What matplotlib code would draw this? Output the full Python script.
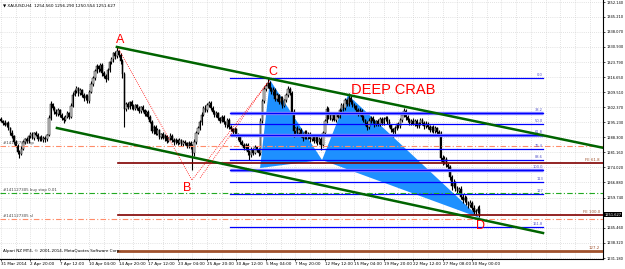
import matplotlib
matplotlib.use("Agg")
import matplotlib.pyplot as plt
from matplotlib.patches import Polygon

# XAUUSD H4, 31 Mar 2014 .. 30 May 2014 (one line = 16 bars)
first_open = 1296.8
closes = [
    1296.0, 1295.2, 1294.1, 1294.8, 1292.5, 1290.3, 1288.6, 1286.0, 1284.1, 1281.5, 1280.4, 1282.8, 1285.9, 1287.4, 1286.3, 1288.9,
    1289.8, 1288.1, 1290.2, 1289.5, 1287.6, 1288.4, 1286.9, 1288.0, 1287.2, 1289.1, 1297.5, 1303.8, 1302.1, 1300.4, 1299.0, 1301.2,
    1298.9, 1297.1, 1296.3, 1298.0, 1299.6, 1297.9, 1303.2, 1308.4, 1310.1, 1311.3, 1309.0, 1310.4, 1308.1, 1306.7, 1307.9, 1305.2,
    1309.8, 1313.5, 1316.2, 1319.4, 1321.7, 1320.3, 1322.5, 1318.6, 1317.1, 1315.8, 1319.9, 1323.6, 1325.0, 1327.9, 1326.4, 1328.8,
    1327.2, 1324.1, 1318.0, 1301.6, 1303.9, 1302.5, 1304.8, 1303.0, 1301.7, 1303.3, 1302.0, 1300.6, 1302.4, 1301.1, 1299.3, 1300.2,
    1297.8, 1295.6, 1291.4, 1293.2, 1290.0, 1291.5, 1288.4, 1289.6, 1287.8, 1288.9, 1286.5, 1287.7, 1289.0, 1287.1, 1285.8, 1286.9,
    1285.7, 1286.8, 1284.9, 1286.1, 1285.3, 1284.2, 1285.6, 1283.9, 1281.0, 1286.2, 1290.4, 1292.8, 1295.3, 1298.9, 1302.1, 1301.0,
    1303.4, 1304.6, 1302.0, 1300.3, 1298.7, 1299.5, 1297.2, 1296.1, 1297.8, 1295.4, 1294.0, 1296.3, 1293.1, 1292.2, 1290.6, 1291.9,
    1289.5, 1288.2, 1286.0, 1284.8, 1283.1, 1284.6, 1281.3, 1279.7, 1282.4, 1281.0, 1283.5, 1282.0, 1280.6, 1295.8, 1305.2, 1310.9,
    1312.6, 1313.8, 1311.2, 1309.4, 1310.8, 1306.5, 1308.1, 1304.9, 1306.6, 1303.2, 1305.7, 1308.3, 1311.0, 1309.2, 1300.4, 1291.0,
    1292.4, 1290.1, 1291.8, 1289.4, 1287.9, 1290.6, 1288.2, 1289.7, 1287.3, 1288.8, 1286.4, 1289.0, 1285.8, 1287.5, 1284.7, 1290.2,
    1296.0, 1301.5, 1298.2, 1297.0, 1298.8, 1296.6, 1299.4, 1298.0, 1301.2, 1303.5, 1302.0, 1305.7, 1304.1, 1306.9, 1305.0, 1303.6,
    1302.8, 1301.0, 1299.4, 1300.8, 1297.6, 1296.2, 1294.8, 1293.0, 1295.9, 1297.4, 1296.0, 1294.3, 1295.8, 1294.6, 1296.9, 1295.1,
    1296.7, 1297.5, 1295.6, 1293.8, 1292.0, 1290.9, 1292.6, 1294.3, 1293.5, 1296.2, 1298.9, 1300.6, 1297.8, 1296.4, 1295.0, 1296.1,
    1294.7, 1295.9, 1293.6, 1294.8, 1296.3, 1295.0, 1293.4, 1294.6, 1293.0, 1291.8, 1292.9, 1291.2, 1292.5, 1290.8, 1289.9, 1278.6,
    1276.4, 1277.9, 1275.2, 1274.0, 1269.6, 1265.3, 1266.8, 1264.1, 1262.7, 1263.9, 1260.2, 1258.5, 1259.7, 1257.1, 1256.0, 1257.3,
    1254.9, 1252.8, 1253.4, 1254.56, 1251.627,
]
up_wick = [
    0.8, 0.6, 1.1, 0.5, 0.9, 0.7, 1.2, 0.6, 0.8, 1.0, 0.5, 1.3, 0.9, 0.7, 1.1, 0.6,
    0.7, 0.9, 0.6, 1.0, 0.8, 0.5, 1.1, 0.7, 0.9, 0.6, 1.2, 1.6, 0.8, 0.7, 1.0, 0.9,
    0.6, 0.8, 1.0, 0.7, 0.9, 0.6, 1.1, 1.3, 0.8, 1.2, 0.7, 0.9, 0.6, 1.0, 0.8, 0.7,
    0.9, 1.1, 0.8, 1.0, 1.3, 0.7, 0.9, 0.6, 1.0, 0.8, 1.2, 0.9, 1.1, 0.7, 1.0, 2.2,
    0.9, 0.7, 1.2, 1.0, 0.8, 1.1, 0.6, 0.9, 1.0, 0.7, 0.8, 1.2, 0.6, 0.9, 0.7, 1.0,
    0.8, 1.0, 0.7, 0.9, 0.6, 1.1, 0.8, 0.7, 1.0, 0.9, 0.6, 0.8, 1.1, 0.7, 0.9, 0.8,
    0.7, 0.9, 0.6, 0.8, 1.0, 0.7, 0.9, 0.8, 1.1, 1.3, 1.0, 0.9, 1.2, 1.4, 1.0, 1.6,
    1.1, 0.9, 1.0, 0.8, 0.7, 1.2, 0.9, 0.6, 1.0, 0.8, 0.7, 1.1, 0.9, 0.8, 0.6, 1.0,
    0.9, 0.7, 0.8, 1.0, 0.6, 0.9, 0.8, 0.7, 1.1, 0.8, 0.9, 0.7, 1.0, 1.3, 1.2, 1.5,
    1.2, 2.4, 1.0, 0.9, 1.1, 0.8, 1.0, 0.7, 0.9, 1.2, 0.8, 1.0, 1.5, 0.9, 0.8, 1.0,
    0.9, 1.1, 0.8, 1.0, 0.7, 0.9, 1.0, 0.8, 0.9, 0.7, 1.1, 0.8, 0.9, 1.0, 0.8, 1.2,
    1.0, 1.4, 0.9, 1.1, 0.8, 1.0, 0.9, 0.7, 1.0, 1.1, 0.9, 1.0, 0.8, 2.2, 1.1, 0.9,
    1.0, 0.8, 0.9, 1.1, 0.8, 1.0, 0.7, 0.9, 1.2, 0.8, 1.0, 0.9, 0.8, 1.1, 0.9, 0.7,
    0.9, 1.0, 0.8, 1.1, 0.9, 0.8, 1.0, 0.9, 1.1, 1.0, 1.2, 1.4, 0.9, 1.0, 0.8, 0.9,
    1.0, 0.9, 1.1, 0.8, 1.0, 0.9, 0.8, 1.1, 0.9, 1.0, 0.8, 0.9, 1.0, 0.8, 0.9, 1.2,
    1.2, 1.4, 1.0, 1.1, 1.3, 0.9, 1.5, 1.0, 1.2, 0.9, 1.1, 1.0, 1.3, 0.9, 1.0, 1.2,
    1.0, 1.2, 0.9, 1.1, 1.73,
]
dn_wick = [
    0.7, 1.0, 0.6, 1.2, 0.8, 0.9, 0.5, 1.1, 0.7, 1.4, 2.2, 0.6, 0.8, 1.0, 0.7, 0.9,
    0.8, 0.6, 1.0, 0.7, 1.1, 0.9, 0.6, 0.8, 1.3, 0.7, 0.5, 0.9, 1.0, 1.2, 0.8, 0.6,
    1.0, 0.9, 1.4, 0.6, 0.8, 1.1, 0.7, 0.9, 0.6, 1.0, 1.2, 0.8, 0.9, 1.1, 0.7, 1.0,
    0.8, 0.7, 1.0, 0.9, 0.6, 1.1, 0.8, 1.2, 0.9, 1.4, 0.7, 0.8, 0.6, 1.0, 1.3, 0.9,
    1.1, 1.4, 1.8, 8.5, 1.0, 0.7, 0.9, 1.2, 0.8, 0.6, 1.0, 0.9, 0.7, 1.1, 0.8, 0.9,
    1.0, 0.8, 1.2, 1.6, 0.9, 0.7, 1.0, 0.8, 0.6, 1.1, 0.9, 0.7, 0.8, 1.0, 1.2, 0.6,
    0.9, 0.7, 1.0, 0.8, 0.6, 1.1, 0.9, 1.2, 8.2, 1.5, 1.0, 0.8, 0.9, 1.1, 0.7, 1.0,
    0.8, 1.0, 0.7, 0.9, 1.1, 0.8, 1.0, 0.9, 0.7, 1.0, 0.8, 1.2, 0.9, 1.1, 1.0, 0.7,
    1.0, 1.2, 0.8, 0.9, 1.1, 0.8, 1.4, 2.2, 0.9, 1.0, 0.7, 0.8, 1.1, 0.6, 0.9, 1.0,
    0.9, 1.0, 1.1, 0.8, 1.0, 1.2, 0.9, 1.1, 0.8, 1.0, 0.9, 0.7, 1.0, 1.1, 1.3, 2.6,
    1.0, 0.8, 1.1, 0.9, 1.2, 0.7, 1.0, 0.8, 1.1, 0.9, 1.0, 0.8, 1.2, 0.9, 2.5, 1.0,
    0.9, 1.0, 1.2, 0.8, 1.0, 0.9, 1.1, 0.8, 0.9, 1.0, 1.2, 0.8, 1.0, 0.9, 1.1, 1.0,
    0.9, 1.1, 1.0, 0.8, 1.2, 0.9, 1.0, 1.4, 0.8, 1.0, 0.9, 1.1, 0.8, 1.0, 0.9, 1.0,
    1.0, 0.8, 1.1, 0.9, 1.2, 2.5, 1.0, 0.8, 0.9, 1.1, 0.8, 1.0, 1.2, 0.9, 1.0, 0.8,
    0.9, 1.0, 0.8, 1.1, 0.9, 1.0, 1.2, 0.8, 1.0, 0.9, 1.1, 0.8, 1.0, 1.2, 0.9, 1.8,
    1.5, 1.0, 1.2, 1.6, 1.4, 1.8, 1.0, 1.3, 1.1, 0.9, 1.2, 1.5, 1.0, 1.1, 1.3, 0.9,
    1.1, 0.9, 1.2, 1.0, 1.073,
]

date_labels = ["31 Mar 2014", "2 Apr 20:00", "7 Apr 12:00", "10 Apr 04:00", "14 Apr 20:00",
               "17 Apr 12:00", "23 Apr 04:00", "25 Apr 20:00", "30 Apr 12:00", "5 May 04:00",
               "7 May 20:00", "12 May 12:00", "15 May 04:00", "19 May 20:00", "22 May 12:00",
               "27 May 08:00", "30 May 00:00"]
price_ticks = [1352.140, 1345.210, 1338.070, 1330.930, 1323.790, 1316.650, 1309.510, 1302.370,
               1295.230, 1288.300, 1281.160, 1274.020, 1266.880, 1259.740, 1245.460, 1238.320,
               1231.180]
last_price = 1251.627
header = "XAUUSD,H4  1254.560 1256.290 1250.554 1251.627"

# channel (bar, price)
upper_chan = [(63.0, 1330.9), (327.0, 1283.3)]
lower_chan = [(30.4, 1292.6), (294.6, 1243.0)]
# ABCD swing points
abcd_pts = {"A": (63.6, 1330.4), "B": (103.8, 1268.0), "C": (146.2, 1315.3), "D": (260.3, 1250.1)}
# second dotted leg into C
leg2 = [(108.2, 1269.0), (144.8, 1314.0)]
# deep crab X A B C D
crab = [(140.8, 1273.7), (146.2, 1315.3), (174.5, 1277.5), (188.6, 1308.2), (260.3, 1250.1)]
# fibo retracement
fib_names = ["0.0", "38.2", "50.0", "61.8", "76.4", "88.6", "100.0", "113", "127", "161.8"]
fib_prices = [1316.2, 1299.7, 1294.5, 1289.3, 1282.7, 1277.7, 1272.8, 1267.1, 1261.4, 1245.8]
fib_bold = ["38.2", "61.8", "100.0"]
fib_span = (124.5, 294.6)
# fibo expansion
fe_names = ["FE 61.8", "FE 100.0", "127.2"]
fe_prices = [1276.1, 1251.6, 1234.5]
fe_start = 63.6
# order lines
order_names = ["#141127305 tp", "#141127305 buy stop 0.01", "#141127305 sl"]
order_prices = [1284.1, 1261.9, 1249.6]
order_colors = ["#ff8c69", "#22aa22", "#ff8c69"]

plt.rcParams["font.family"] = ["DejaVu Sans"]
fig = plt.figure(figsize=(6.25, 2.69), dpi=100)
ax = fig.add_axes([0.0, 10 / 269, 603 / 625, 259 / 269])
ax.set_xlim(-0.54, 327.2)
ax.set_ylim(1230.71, 1353.09)

n = len(closes)
opens = [first_open] + closes[:-1]
xs = list(range(n))
highs = [max(o, c) + u for o, c, u in zip(opens, closes, up_wick)]
lows = [min(o, c) - d for o, c, d in zip(opens, closes, dn_wick)]

# grid
for gx in range(0, 330, 8):
    ax.axvline(gx, color="#c8c8c8", lw=0.5, ls=(0, (1, 2)), zorder=0)
for gy in price_ticks:
    ax.axhline(gy, color="#c8c8c8", lw=0.5, ls=(0, (1, 2)), zorder=0)

# crab triangles
ax.add_patch(Polygon([crab[0], crab[1], crab[2]], closed=True, fc="#1e90ff", ec="none", zorder=1))
ax.add_patch(Polygon([crab[2], crab[3], crab[4]], closed=True, fc="#1e90ff", ec="none", zorder=1))

# candles
ax.vlines(xs, lows, highs, color="black", lw=0.8, zorder=2)
for x, o, c in zip(xs, opens, closes):
    fc = "#d8d8d8" if c >= o else "black"
    ax.bar(x, max(abs(c - o), 0.15), bottom=min(o, c), width=0.75, color=fc,
           edgecolor="black", linewidth=0.35, zorder=2)

# fibo lines
for name, p in zip(fib_names, fib_prices):
    if name in fib_bold:
        ax.plot(fib_span, [p, p], color="#8080ff", lw=2.4, zorder=3, solid_capstyle="butt")
    ax.plot(fib_span, [p, p], color="#0000ff", lw=0.9, zorder=3)
    ax.text(fib_span[1], p + 0.4, name, color="#5050c8", fontsize=2.6, ha="right", va="bottom", zorder=4)

# fibo expansion lines
for name, p, col in zip(fe_names, fe_prices, ["#800000", "#800000", "#a0522d"]):
    ax.plot([fe_start, 327.2], [p, p], color=col, lw=1.2 if col == "#800000" else 2.0, zorder=3)
    ax.text(325.5, p + 0.5, name, color="#a0522d", fontsize=2.8, ha="right", va="bottom", zorder=4)

# order lines
for name, p, col in zip(order_names, order_prices, order_colors):
    ax.axhline(p, color=col, lw=0.8, ls=(0, (5, 2, 1, 2)), zorder=3)
    ax.text(1.0, p + 0.5, name, color="#404040", fontsize=2.8, ha="left", va="bottom", zorder=4)

# channel
ax.plot(*zip(*upper_chan), color="#006400", lw=1.8, zorder=4)
ax.plot(*zip(*lower_chan), color="#006400", lw=1.8, zorder=4)

# abcd dotted
ab = [abcd_pts["A"], abcd_pts["B"], abcd_pts["C"]]
ax.plot(*zip(*ab), color="red", lw=0.6, ls=(0, (1, 1.5)), zorder=4)
ax.plot(*zip(*leg2), color="red", lw=0.6, ls=(0, (1, 1.5)), zorder=4)

# labels
lab_font = ["Liberation Sans", "DejaVu Sans"]
ax.text(abcd_pts["A"][0] + 1, abcd_pts["A"][1] + 1.0, "A", color="red", fontsize=9, family=lab_font,
        ha="center", va="bottom", zorder=5)
ax.text(abcd_pts["B"][0] - 2.5, abcd_pts["B"][1] - 0.8, "B", color="red", fontsize=9, family=lab_font,
        ha="center", va="top", zorder=5)
ax.text(abcd_pts["C"][0] + 1.5, abcd_pts["C"][1] + 0.8, "C", color="red", fontsize=9, family=lab_font,
        ha="center", va="bottom", zorder=5)
ax.text(abcd_pts["D"][0] + 0.5, abcd_pts["D"][1] - 1.0, "D", color="red", fontsize=9, family=lab_font,
        ha="center", va="top", zorder=5)
ax.text(213, 1310.6, "DEEP CRAB", color="red", fontsize=10.5, family=lab_font,
        ha="center", va="center", zorder=5)

ax.text(0.005, 0.985, "\u25bc " + header, transform=ax.transAxes, fontsize=3.0,
        ha="left", va="top", color="black", zorder=6)
ax.text(0.005, 0.025, "Alpari NZ MT4, \u00a9 2001-2014, MetaQuotes Software Corp.",
        transform=ax.transAxes, fontsize=3.0, ha="left", va="bottom", color="black", zorder=6)

# axes styling
for s in ["top", "left"]:
    ax.spines[s].set_visible(False)
for s in ["right", "bottom"]:
    ax.spines[s].set_linewidth(0.8)
ax.yaxis.tick_right()
ax.set_yticks(price_ticks)
ax.set_yticklabels([f"{v:.3f}" for v in price_ticks], fontsize=2.6)
ax.set_xticks(list(range(0, 16 * len(date_labels), 16)))
ax.set_xticklabels(date_labels, fontsize=3.0, ha="left")
ax.tick_params(axis="both", length=1.5, width=0.5, pad=0.8)
ax.text(1.003, last_price, f"{last_price:.3f}", transform=ax.get_yaxis_transform(),
        fontsize=2.6, color="white", ha="left", va="center",
        bbox=dict(boxstyle="square,pad=0.15", fc="black", ec="none"), zorder=6, clip_on=False)

fig.savefig("out.png", dpi=100, facecolor="white")
